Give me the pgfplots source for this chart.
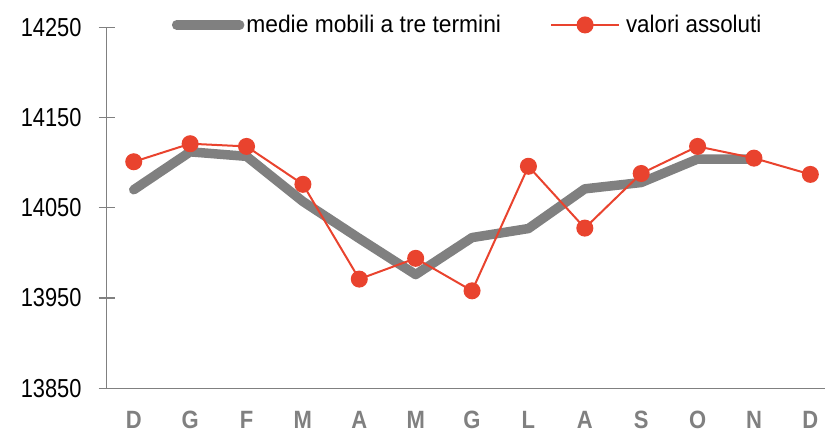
\documentclass[border=0pt]{standalone}
\usepackage{fontspec}
\setmainfont{Liberation Sans}
\usepackage{graphicx}
\usepackage{pgfplots}
\pgfplotsset{compat=1.18}
\usetikzlibrary{calc}
\definecolor{gline}{HTML}{808080}
\definecolor{rline}{HTML}{E9432E}
\definecolor{axgray}{HTML}{808080}
\newcommand\sx[1]{\scalebox{0.84}[1]{#1}}
\newcommand\xl[1]{\scalebox{0.88}[1]{\bfseries #1}}
\newcommand\sg[2][0.95]{\scalebox{#1}[1]{#2}}
\pgfplotsset{
  greyleg/.style={legend image code/.code={\draw[##1] plot coordinates {(0pt,0pt) (63pt,0pt)};}},
  redleg/.style={legend image code/.code={\draw[mark repeat=2, mark phase=2, ##1] plot coordinates {(0pt,0pt) (34pt,0pt) (68pt,0pt)}; \path (72pt,0pt);}},
}
\begin{document}
\begin{tikzpicture}
\begin{axis}[
  name=ax,
  scale only axis,
  width=718.3pt, height=361pt,
  xmin=-0.48, xmax=12.26,
  ymin=13850, ymax=14250,
  scaled y ticks=false,
  axis x line=bottom, axis y line=left,
  axis line style={draw=axgray, line width=1.2pt, -},
  tick align=center, major tick length=16pt,
  ytick={13850,13950,14050,14150,14250},
  yticklabels={\sx{13850},\sx{13950},\sx{14050},\sx{14150},\sx{14250}},
  ytick style={draw=axgray, line width=1.2pt},
  yticklabel style={font=\fontsize{26}{30}\selectfont, text=black, anchor=east, inner sep=0pt, xshift=-17pt},
  xtick={0,...,12},
  xticklabels={\xl{D},\xl{G},\xl{F},\xl{M},\xl{A},\xl{M},\xl{G},\xl{L},\xl{A},\xl{S},\xl{O},\xl{N},\xl{D}},
  xtick style={draw=none},
  xticklabel style={font=\fontsize{25}{28}\selectfont, text=axgray, anchor=north, inner sep=0pt, yshift=-14.8pt},
  legend columns=2,
  legend style={draw=none, fill=none, at={(0.0905,1.0065)}, anchor=west,
    font=\fontsize{24}{28}\selectfont, inner sep=0pt,
    /tikz/every even column/.append style={column sep=47pt}},
]
\addplot[gline, line width=9.5pt, line join=round, line cap=round, greyleg]
  coordinates {(0,14070) (1,14112) (2,14107) (3,14057) (4,14016) (5,13976)
   (6,14017) (7,14027) (8,14071) (9,14078) (10,14104) (11,14104)};
\addlegendentry{\sg{medie mobili a tre termini}}
\addplot[rline, line width=2pt, mark=*, mark size=7.5pt, mark options={fill=rline, draw=rline}, redleg]
  coordinates {(0,14101) (1,14121) (2,14118) (3,14076) (4,13971) (5,13994)
   (6,13958) (7,14096) (8,14027.5) (9,14088) (10,14118) (11,14105) (12,14087)};
\addlegendentry{\sg[0.93]{valori assoluti}}
\end{axis}
\pgfresetboundingbox
\path ($(ax.south west)+(-106.7pt,-43.7pt)$) rectangle ($(ax.north east)+(0pt,27.3pt)$);
\end{tikzpicture}
\end{document}
